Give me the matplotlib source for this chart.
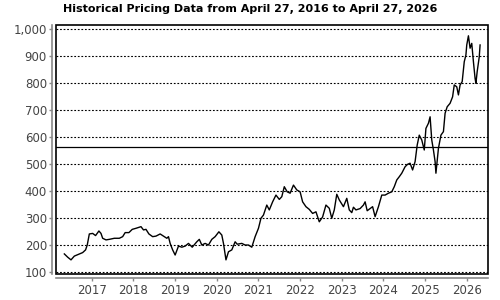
import matplotlib.pyplot as plt
from matplotlib.patches import Rectangle

# price readings (decimal year, closing price)
years = [
    2016.34, 2016.42, 2016.50, 2016.58, 2016.70, 2016.78, 2016.85, 2016.89, 2016.94,
    2017.02, 2017.09, 2017.17, 2017.22, 2017.26, 2017.34, 2017.42, 2017.54, 2017.66,
    2017.74, 2017.80, 2017.89, 2017.97, 2018.06, 2018.18, 2018.24, 2018.30, 2018.37,
    2018.46, 2018.54, 2018.64, 2018.72, 2018.80, 2018.84, 2018.88, 2018.94, 2019.00,
    2019.08, 2019.16, 2019.24, 2019.32, 2019.41, 2019.52, 2019.58, 2019.64, 2019.72,
    2019.80, 2019.88, 2019.96, 2020.05, 2020.12, 2020.16, 2020.22, 2020.28, 2020.36,
    2020.44, 2020.49, 2020.60, 2020.68, 2020.76, 2020.84, 2020.92, 2021.00, 2021.06,
    2021.12, 2021.20, 2021.26, 2021.34, 2021.42, 2021.50, 2021.56, 2021.62, 2021.69,
    2021.76, 2021.84, 2021.92, 2022.00, 2022.06, 2022.14, 2022.22, 2022.30, 2022.38,
    2022.46, 2022.54, 2022.62, 2022.70, 2022.76, 2022.82, 2022.88, 2022.94, 2023.04,
    2023.12, 2023.18, 2023.24, 2023.28, 2023.34, 2023.44, 2023.52, 2023.56, 2023.61,
    2023.68, 2023.74, 2023.80, 2023.88, 2023.96, 2024.04, 2024.12, 2024.20, 2024.26,
    2024.32, 2024.38, 2024.44, 2024.52, 2024.58, 2024.64, 2024.70, 2024.76, 2024.81,
    2024.86, 2024.92, 2024.98, 2025.02, 2025.08, 2025.12, 2025.16, 2025.20, 2025.24,
    2025.26, 2025.32, 2025.38, 2025.44, 2025.48, 2025.53, 2025.60, 2025.66, 2025.70,
    2025.76, 2025.80, 2025.84, 2025.89, 2025.94, 2025.98, 2026.00, 2026.04, 2026.08,
    2026.12, 2026.16, 2026.20, 2026.22, 2026.25, 2026.30, 2026.32,
]
prices = [
    168, 156, 146, 160, 168, 173, 183, 201, 242,
    244, 236, 253, 244, 226, 220, 222, 226, 226,
    232, 247, 247, 259, 263, 269, 257, 259, 242,
    232, 234, 242, 234, 226, 232, 207, 183, 164,
    197, 193, 197, 207, 193, 213, 222, 201, 207,
    201, 222, 232, 250, 238, 207, 146, 176, 183,
    213, 204, 207, 201, 201, 193, 232, 263, 300,
    312, 349, 331, 361, 386, 370, 380, 417, 398,
    393, 423, 405, 398, 361, 343, 333, 318, 324,
    287, 305, 349, 337, 300, 331, 389, 368, 343,
    374, 331, 321, 341, 331, 336, 349, 361, 328,
    336, 343, 306, 343, 386, 386, 393, 398, 417,
    442, 454, 467, 491, 500, 504, 479, 510, 571,
    608, 590, 553, 633, 652, 676, 590, 553, 510,
    467, 559, 608, 621, 689, 713, 726, 750, 794,
    787, 757, 794, 806, 880, 905, 942, 976, 930,
    948, 880, 818, 800, 843, 898, 942,
]
ref_level = 563
year_ticks = list(range(2017, 2027))
price_ticks = list(range(100, 1001, 100))
title = "Historical Pricing Data from April 27, 2016 to April 27, 2026"

fig = plt.figure(figsize=(5, 3), dpi=100)
ax = fig.add_axes([0.112, 0.0867, 0.864, 0.8316])

ax.plot(years, prices, color="black", lw=1.0)
ax.axhline(ref_level, color="black", lw=0.9)

ax.set_xlim(2016.14, 2026.51)
ax.set_ylim(93.7, 1017.8)
ax.set_xticks(year_ticks)
ax.set_yticks(price_ticks)
ax.set_yticklabels([f"{v:,}" for v in price_ticks])
ax.grid(axis="y", color="black", linestyle=(0, (1.6, 1.6)), lw=0.8)

for side in ["top", "right"]:
    ax.spines[side].set_visible(False)
for side in ["left", "bottom"]:
    ax.spines[side].set_position(("outward", 3))
    ax.spines[side].set_color("#888888")
    ax.spines[side].set_linewidth(1.2)
ax.tick_params(colors="#888888", labelcolor="#444444", labelsize=8.5, length=2.5, width=1)
ax.tick_params(axis="x", pad=2)
ax.tick_params(axis="y", pad=1)

# black frame around the plot area
ax.add_patch(Rectangle((0, 0), 1, 1, transform=ax.transAxes, fill=False,
                       edgecolor="black", lw=1.2, clip_on=False, zorder=5))

fig.suptitle(title, x=0.5, y=0.985, fontsize=8, fontweight="bold")

fig.savefig("out.png", dpi=100)
